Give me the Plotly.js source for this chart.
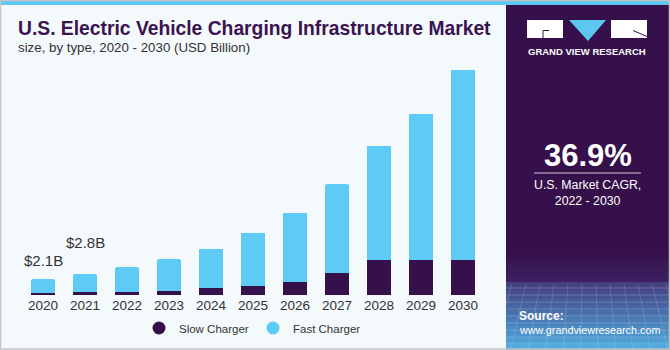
<!DOCTYPE html>
<html>
<head>
<meta charset="utf-8">
<script src="https://cdn.plot.ly/plotly-3.0.1.min.js"></script>
<style>html,body{margin:0;padding:0;background:#fff;}#chart{width:670px;height:350px;}</style>
</head>
<body>
<div id="chart"></div>
<script>
// ---- data ----
var years = ["2020","2021","2022","2023","2024","2025","2026","2027","2028","2029","2030"];
var slowCharger = [0.27, 0.36, 0.40, 0.50, 0.90, 1.17, 1.74, 2.90, 4.70, 4.70, 4.70];
var fastCharger = [1.83, 2.44, 3.31, 4.28, 5.32, 7.14, 9.30, 11.93, 15.30, 19.60, 25.50];
var labelYears = ["2020", "2021"];
var labelTexts = ["$2.1B", "$2.8B"];
var cagrText = "36.9%";

// ---- geometry helpers (pixel -> paper) ----
var W = 670, H = 350, L = 22, R = 186, T = 60, B = 55;
var PW = W - L - R, PH = H - T - B;
function px(x){ return (x - L) / PW; }
function py(y){ return (H - B - y) / PH; }

var purple = "#36104A", cyan = "#5DCBF6", textDark = "#333333";
var fontMain = "Liberation Sans, Arial, sans-serif";

var totals = years.map(function(_, i){ return slowCharger[i] + fastCharger[i]; });

var traces = [
  {type:"bar", name:"Slow Charger", x:years, y:slowCharger, marker:{color:purple}, showlegend:false},
  {type:"bar", name:"Fast Charger", x:years, y:fastCharger, marker:{color:cyan}, showlegend:false},
  {type:"scatter", mode:"markers", name:"Slow Charger", x:[years[0]], y:[null], marker:{color:purple, size:13, symbol:"circle"}},
  {type:"scatter", mode:"markers", name:"Fast Charger", x:[years[0]], y:[null], marker:{color:cyan, size:13, symbol:"circle"}}
];

var shapes = [];
// right panel
shapes.push({type:"rect", xref:"paper", yref:"paper", x0:px(506), x1:px(670), y0:py(350), y1:py(0), fillcolor:purple, line:{width:0}, layer:"below"});
// gradient bands at bottom of panel
var bandStart = 250, bandEnd = 350, nb = 25;
function lerp(a,b,t){ return Math.round(a+(b-a)*t); }
for (var k=0;k<nb;k++){
  var y0 = bandStart + (bandEnd-bandStart)*k/nb, y1 = bandStart + (bandEnd-bandStart)*(k+1)/nb;
  var mid = (y0+y1)/2, c;
  if (mid < 283){
    var t = (mid-250)/33;
    c = "rgb("+lerp(54,62,t)+","+lerp(16,34,t)+","+lerp(74,98,t)+")";
  } else {
    var t2 = (mid-283)/67;
    c = "rgb("+lerp(68,80,t2)+","+lerp(62,175,t2)+","+lerp(128,226,t2)+")";
  }
  shapes.push({type:"rect", xref:"paper", yref:"paper", x0:px(506), x1:px(670), y0:py(y1), y1:py(y0), fillcolor:c, line:{width:0}, layer:"below"});
}
// faint grid lines in the bottom area
for (var g=0; g<9; g++){
  var gy = 288 + g*7;
  shapes.push({type:"line", xref:"paper", yref:"paper", x0:px(506), x1:px(670), y0:py(gy), y1:py(gy), line:{color:"rgba(255,255,255,0.18)", width:1}, layer:"below"});
}
for (var v=0; v<12; v++){
  var gx = 512 + v*14;
  shapes.push({type:"line", xref:"paper", yref:"paper", x0:px(gx), x1:px(gx + (gx-588)*0.25), y0:py(284), y1:py(350), line:{color:"rgba(255,255,255,0.15)", width:1}, layer:"below"});
}
// top cyan strip and grey border
shapes.push({type:"rect", xref:"paper", yref:"paper", x0:px(0), x1:px(670), y0:py(5), y1:py(0), fillcolor:"#5BC8F2", line:{width:0}, layer:"below"});
shapes.push({type:"rect", xref:"paper", yref:"paper", x0:px(0.5), x1:px(669.5), y0:py(349), y1:py(0.5), line:{color:"#C4C4C4", width:1.5}, layer:"above"});
// logo
shapes.push({type:"rect", xref:"paper", yref:"paper", x0:px(527), x1:px(563), y0:py(38), y1:py(20), fillcolor:"#FFFFFF", line:{width:0}});
shapes.push({type:"path", xref:"paper", yref:"paper", path:"M "+px(543)+","+py(38)+" L "+px(543)+","+py(30.5)+" L "+px(549)+","+py(30.5), line:{color:purple, width:1}});
shapes.push({type:"path", xref:"paper", yref:"paper", path:"M "+px(569)+","+py(20)+" L "+px(606)+","+py(20)+" L "+px(588)+","+py(41)+" Z", fillcolor:"#5BC8F2", line:{width:0}});
shapes.push({type:"rect", xref:"paper", yref:"paper", x0:px(611), x1:px(647), y0:py(38), y1:py(20), fillcolor:"#FFFFFF", line:{width:0}});
shapes.push({type:"line", xref:"paper", yref:"paper", x0:px(633), x1:px(647), y0:py(30.5), y1:py(36.5), line:{color:purple, width:1}});
// CAGR underline
shapes.push({type:"line", xref:"paper", yref:"paper", x0:px(534), x1:px(641), y0:py(173), y1:py(173), line:{color:"#CFC8D8", width:1}});

var annotations = [
  {xref:"paper", yref:"paper", x:px(16), y:py(29), xanchor:"left", yanchor:"middle", showarrow:false,
   text:"<b>U.S. Electric Vehicle Charging Infrastructure Market</b>", font:{family:fontMain, size:19.3, color:"#3A1450"}},
  {xref:"paper", yref:"paper", x:px(16), y:py(48), xanchor:"left", yanchor:"middle", showarrow:false,
   text:"size, by type, 2020 - 2030 (USD Billion)", font:{family:fontMain, size:13.3, color:textDark}},
  {xref:"paper", yref:"paper", x:px(587), y:py(51), xanchor:"center", yanchor:"middle", showarrow:false,
   text:"<b>GRAND VIEW RESEARCH</b>", font:{family:fontMain, size:9.5, color:"#FFFFFF"}},
  {xref:"paper", yref:"paper", x:px(587.5), y:py(155), xanchor:"center", yanchor:"middle", showarrow:false,
   text:"<b>"+cagrText+"</b>", font:{family:fontMain, size:31, color:"#FFFFFF"}},
  {xref:"paper", yref:"paper", x:px(587.5), y:py(193), xanchor:"center", yanchor:"middle", showarrow:false,
   text:"U.S. Market CAGR,<br>2022 - 2030", font:{family:fontMain, size:12.3, color:"#FFFFFF"}},
  {xref:"paper", yref:"paper", x:px(517), y:py(316), xanchor:"left", yanchor:"middle", showarrow:false,
   text:"<b>Source:</b>", font:{family:fontMain, size:12, color:"#FFFFFF"}},
  {xref:"paper", yref:"paper", x:px(517), y:py(330), xanchor:"left", yanchor:"middle", showarrow:false,
   text:"www.grandviewresearch.com", font:{family:fontMain, size:10.8, color:"#FFFFFF"}}
];
var shifts = [8, 21];
labelYears.forEach(function(yr, i){
  var idx = years.indexOf(yr);
  annotations.push({x:idx, y:totals[idx], xref:"x", yref:"y", yanchor:"bottom", xanchor:"center", yshift:shifts[i],
    showarrow:false, text:labelTexts[i], font:{family:fontMain, size:15, color:textDark}});
});

var layout = {
  width:W, height:H,
  margin:{l:L, r:R, t:T, b:B, pad:0, autoexpand:false},
  paper_bgcolor:"#F4F9FC", plot_bgcolor:"rgba(0,0,0,0)",
  barmode:"stack", bargap:0.42, barcornerradius:2,
  font:{family:fontMain, color:textDark},
  xaxis:{type:"category", categoryorder:"array", categoryarray:years, range:[-0.5, years.length-0.5],
         showgrid:false, zeroline:false, showline:false, ticks:"", fixedrange:true,
         tickfont:{family:fontMain, size:13.5, color:textDark}},
  yaxis:{range:[0, 31.5], visible:false, fixedrange:true},
  showlegend:true,
  legend:{orientation:"h", x:px(253), xanchor:"center", y:py(328), yanchor:"middle",
          entrywidth:69, entrywidthmode:"pixels",
          font:{family:fontMain, size:11.5, color:textDark}, bgcolor:"rgba(0,0,0,0)", itemwidth:30, traceorder:"normal"},
  shapes:shapes, annotations:annotations
};
Plotly.newPlot("chart", traces, layout, {displayModeBar:false, staticPlot:true});
</script>
</body>
</html>
